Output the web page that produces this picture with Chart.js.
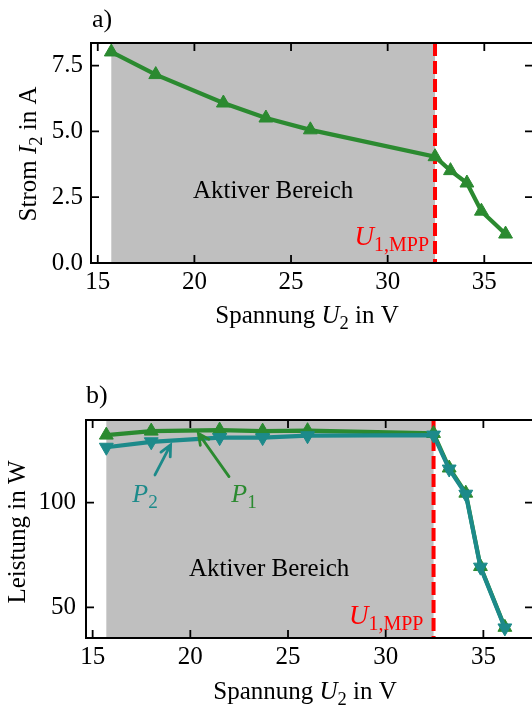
<!DOCTYPE html>
<html>
<head>
<meta charset="utf-8">
<script src="https://cdn.jsdelivr.net/npm/chart.js"></script>
<style>
  html, body { margin: 0; padding: 0; background: #fff; overflow: hidden; }
  #wrap { position: relative; width: 532px; height: 705px; overflow: hidden; }
  canvas { position: absolute; left: 0; }
</style>
</head>
<body>
<div id="wrap">
  <canvas id="topChart" width="545" height="350" style="top:0"></canvas>
  <canvas id="botChart" width="545" height="355" style="top:350px"></canvas>
</div>
<script>
// ======= DATA =======
const U2 = [15.7, 18.0, 21.5, 23.7, 26.0, 32.45, 33.25, 34.1, 34.85, 36.1];   // Spannung U2 in V
const I2 = [8.02, 7.16, 6.08, 5.51, 5.06, 4.04, 3.51, 3.04, 1.97, 1.10];      // Strom I2 in A
const P1 = [132.2, 134.1, 134.6, 134.1, 134.3, 133.0, 116.5, 104.5, 69.5, 40.5];
const P2 = [126.4, 129.0, 131.0, 131.0, 131.9, 132.2, 116.0, 104.0, 69.2, 40.2];
const activeRange = [15.7, 32.45];   // Aktiver Bereich
const uMpp = 32.45;                   // U_1,MPP
const xTicks = [15, 20, 25, 30, 35];
const yTicksTop = [0, 2.5, 5, 7.5];
const yTicksBot = [50, 100];

const GREEN = '#2b8a30';
const TEAL = '#1c8a8a';
const RED = '#ff0000';
const FAM = '"Liberation Serif", "Times New Roman", serif';
const FS = 25;

// ======= HELPERS =======
function drawRich(ctx, parts, x, y, size, align, color) {
  const fontFor = p => (p.it ? 'italic ' : '') + (p.sub ? size * 0.74 : size) + 'px ' + FAM;
  let w = 0;
  parts.forEach(p => { ctx.font = fontFor(p); w += ctx.measureText(p.t).width; });
  let cx = align === 'center' ? x - w / 2 : align === 'right' ? x - w : x;
  ctx.fillStyle = color || '#000';
  ctx.textAlign = 'left';
  ctx.textBaseline = 'alphabetic';
  parts.forEach(p => {
    ctx.font = fontFor(p);
    ctx.fillText(p.t, cx, y + (p.sub ? size * 0.24 : 0));
    cx += ctx.measureText(p.t).width;
  });
}

function drawArrow(ctx, x0, y0, x1, y1, color) {
  const ang = Math.atan2(y1 - y0, x1 - x0);
  const hl = 12, ha = 0.45;
  ctx.save();
  ctx.strokeStyle = color;
  ctx.lineWidth = 2.8;
  ctx.lineCap = 'round';
  ctx.beginPath();
  ctx.moveTo(x0, y0); ctx.lineTo(x1, y1);
  ctx.moveTo(x1 - hl * Math.cos(ang - ha), y1 - hl * Math.sin(ang - ha));
  ctx.lineTo(x1, y1);
  ctx.lineTo(x1 - hl * Math.cos(ang + ha), y1 - hl * Math.sin(ang + ha));
  ctx.stroke();
  ctx.restore();
}

// ======= DECOR PLUGIN (region, MPP line, frame, inward ticks, labels) =======
const decor = {
  id: 'decor',
  beforeDatasetsDraw(chart, args, o) {
    const { ctx, chartArea: a, scales: { x } } = chart;
    const x0 = x.getPixelForValue(activeRange[0]);
    const x1 = x.getPixelForValue(activeRange[1]);
    ctx.save();
    ctx.fillStyle = '#bfbfbf';
    ctx.fillRect(x0, a.top, x1 - x0, a.bottom - a.top);
    const xm = x.getPixelForValue(uMpp);
    ctx.strokeStyle = RED;
    ctx.lineWidth = 4;
    ctx.setLineDash([13, 5]);
    ctx.beginPath();
    ctx.moveTo(xm, a.top); ctx.lineTo(xm, a.bottom);
    ctx.stroke();
    ctx.restore();

    // texts inside the axes
    (o.texts || []).forEach(t => {
      drawRich(ctx, t.parts, x.getPixelForValue(t.x), chart.scales.y.getPixelForValue(t.y), t.size, t.align, t.color);
    });
  },
  afterDraw(chart, args, o) {
    const { ctx, chartArea: a, scales: { x, y } } = chart;
    ctx.save();
    // frame
    ctx.strokeStyle = '#000';
    ctx.lineWidth = 2;
    ctx.strokeRect(a.left, a.top, a.right - a.left, a.bottom - a.top);
    // inward ticks on all sides
    ctx.lineWidth = 1.8;
    ctx.beginPath();
    x.ticks.forEach(t => {
      const px = x.getPixelForValue(t.value);
      ctx.moveTo(px, a.bottom); ctx.lineTo(px, a.bottom - 8);
      ctx.moveTo(px, a.top); ctx.lineTo(px, a.top + 8);
    });
    y.ticks.forEach(t => {
      const py = y.getPixelForValue(t.value);
      ctx.moveTo(a.left, py); ctx.lineTo(a.left + 8, py);
      ctx.moveTo(a.right, py); ctx.lineTo(a.right - 8, py);
    });
    ctx.stroke();
    ctx.restore();

    // panel label
    drawRich(ctx, [{ t: o.panel }], o.panelX, o.panelY, 26, 'left');
    // x title
    drawRich(ctx, o.xTitle, o.xTitleX, o.xTitleY, FS, 'center');
    // y title (rotated)
    ctx.save();
    ctx.translate(o.yTitleX, o.yTitleY);
    ctx.rotate(-Math.PI / 2);
    drawRich(ctx, o.yTitle, 0, 0, FS, 'center');
    ctx.restore();

    // arrows with labels
    (o.arrows || []).forEach(ar => {
      drawArrow(ctx, x.getPixelForValue(ar.from[0]), y.getPixelForValue(ar.from[1]),
        x.getPixelForValue(ar.to[0]), y.getPixelForValue(ar.to[1]), ar.color);
      drawRich(ctx, ar.label, x.getPixelForValue(ar.text[0]), y.getPixelForValue(ar.text[1]), 26, 'center', ar.color);
    });
  }
};

function xScale(min, max, height) {
  return {
    type: 'linear', min: min, max: max,
    grid: { display: false, drawTicks: false }, border: { display: false },
    afterBuildTicks: s => { s.ticks = xTicks.map(v => ({ value: v })); },
    afterFit: s => { s.height = height; },
    ticks: { padding: 4, color: '#000', maxRotation: 0, font: { family: FAM, size: FS } }
  };
}

function yScale(min, max, width, tickVals, fmt, pad) {
  return {
    type: 'linear', min: min, max: max,
    grid: { display: false, drawTicks: false }, border: { display: false },
    afterBuildTicks: s => { s.ticks = tickVals.map(v => ({ value: v })); },
    afterFit: s => { s.width = width; },
    ticks: { padding: pad, color: '#000', callback: fmt, font: { family: FAM, size: FS } }
  };
}

const mppLabel = [{ t: 'U', it: true }, { t: '1,MPP', sub: true }];
const bereich = [{ t: 'Aktiver Bereich' }];

// ======= TOP CHART: I2 over U2 =======
new Chart(document.getElementById('topChart'), {
  type: 'scatter',
  data: {
    datasets: [{
      data: U2.map((u, i) => ({ x: u, y: I2[i] })),
      showLine: true, tension: 0,
      borderColor: GREEN, backgroundColor: GREEN, borderWidth: 4.2,
      pointStyle: 'triangle', pointRadius: 8, pointBorderWidth: 1,
      pointBackgroundColor: GREEN, pointBorderColor: GREEN
    }]
  },
  options: {
    responsive: false, animation: false, devicePixelRatio: 1,
    layout: { padding: { top: 43, right: 12, left: 0, bottom: 0 }, autoPadding: false },
    plugins: {
      legend: { display: false }, tooltip: { enabled: false },
      decor: {
        panel: 'a)', panelX: 92, panelY: 27,
        xTitle: [{ t: 'Spannung ' }, { t: 'U', it: true }, { t: '2', sub: true }, { t: ' in V' }],
        xTitleX: 307, xTitleY: 323,
        yTitle: [{ t: 'Strom ' }, { t: 'I', it: true }, { t: '2', sub: true }, { t: ' in A' }],
        yTitleX: 36, yTitleY: 154,
        texts: [
          { parts: bereich, x: 24.07, y: 2.47, size: FS, align: 'center', color: '#000' },
          { parts: mppLabel, x: 32.14, y: 0.70, size: 27, align: 'right', color: RED }
        ]
      }
    },
    scales: {
      x: xScale(14.65, 37.52, 87),
      y: yScale(0, 8.36, 91, yTicksTop, v => v.toFixed(1), 8)
    }
  },
  plugins: [decor]
});

// ======= BOTTOM CHART: P1, P2 over U2 =======
new Chart(document.getElementById('botChart'), {
  type: 'scatter',
  data: {
    datasets: [{
      label: 'P2',
      data: U2.map((u, i) => ({ x: u, y: P2[i] })),
      showLine: true, tension: 0, order: 0,
      borderColor: TEAL, backgroundColor: TEAL, borderWidth: 4.2,
      pointStyle: 'triangle', pointRotation: 180, pointRadius: 8, pointBorderWidth: 1,
      pointBackgroundColor: TEAL, pointBorderColor: TEAL
    }, {
      label: 'P1',
      data: U2.map((u, i) => ({ x: u, y: P1[i] })),
      showLine: true, tension: 0, order: 1,
      borderColor: GREEN, backgroundColor: GREEN, borderWidth: 4.2,
      pointStyle: 'triangle', pointRadius: 8, pointBorderWidth: 1,
      pointBackgroundColor: GREEN, pointBorderColor: GREEN
    }]
  },
  options: {
    responsive: false, animation: false, devicePixelRatio: 1,
    layout: { padding: { top: 70, right: 12, left: 0, bottom: 0 }, autoPadding: false },
    plugins: {
      legend: { display: false }, tooltip: { enabled: false },
      decor: {
        panel: 'b)', panelX: 86, panelY: 53,
        xTitle: [{ t: 'Spannung ' }, { t: 'U', it: true }, { t: '2', sub: true }, { t: ' in V' }],
        xTitleX: 305, xTitleY: 349,
        yTitle: [{ t: 'Leistung in W' }],
        yTitleX: 25, yTitleY: 182,
        texts: [
          { parts: bereich, x: 24.03, y: 64.8, size: FS, align: 'center', color: '#000' },
          { parts: mppLabel, x: 31.93, y: 42.2, size: 27, align: 'right', color: RED }
        ],
        arrows: [
          { from: [18.19, 113.2], to: [18.99, 127.5], text: [17.68, 100.3], color: TEAL,
            label: [{ t: 'P', it: true }, { t: '2', sub: true }] },
          { from: [21.98, 112.4], to: [20.41, 133.0], text: [22.75, 100.3], color: GREEN,
            label: [{ t: 'P', it: true }, { t: '1', sub: true }] }
        ]
      }
    },
    scales: {
      x: xScale(14.66, 37.54, 67),
      y: yScale(35.4, 139.4, 86, yTicksBot, v => String(v), 10)
    }
  },
  plugins: [decor]
});
</script>
</body>
</html>
